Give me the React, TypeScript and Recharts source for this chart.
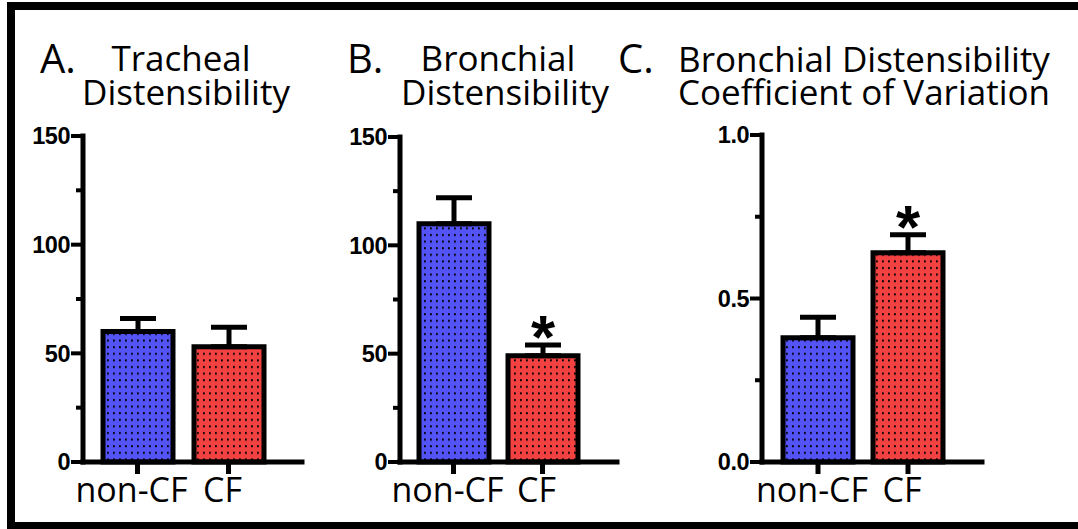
import { BarChart, Bar, XAxis, YAxis, Cell, ErrorBar, LabelList } from 'recharts';

const categories = ['non-CF', 'CF'];

const trachealMeans = [60, 53];
const trachealErr = [6, 9];
const trachealSig = ['', ''];

const bronchialMeans = [110, 49];
const bronchialErr = [12, 5];
const bronchialSig = ['', '*'];

const cvMeans = [0.38, 0.64];
const cvErr = [0.063, 0.055];
const cvSig = ['', '*'];

const distTicks = [0, 25, 50, 75, 100, 125, 150];
const cvTicks = [0, 0.25, 0.5, 0.75, 1];

const BLUE = '#5353f6';
const RED = '#f24141';
const fills = ['url(#dotsBlue)', 'url(#dotsRed)'];

const titleFont = '"Open Sans", sans-serif';
const tickFont = '"Liberation Sans", Arial, sans-serif';

function buildRows(means: number[], errs: number[], sig: string[]) {
  return categories.map((name, i) => ({
    name,
    value: means[i],
    err: [0, errs[i]],
    star: sig[i],
  }));
}

interface PanelProps {
  means: number[];
  errs: number[];
  sig: string[];
  ticks: number[];
  majorStep: number;
  decimals: number;
  plotLeft: number;
  plotTop: number;
  plotRight: number;
  padLeft: number;
  padRight: number;
}

const BOTTOM = 462;
const TOP_EDGE = 100;

function Panel(p: PanelProps) {
  const rows = buildRows(p.means, p.errs, p.sig);
  const width = p.plotRight - p.plotLeft + 80 + 12;
  const height = BOTTOM - TOP_EDGE + 60;

  const yTick = (t: any) => {
    const v = t.payload.value;
    const major = Math.abs(v / p.majorStep - Math.round(v / p.majorStep)) < 1e-6;
    const len = major ? 12 : 7;
    return (
      <g>
        <line x1={t.x - len} x2={t.x} y1={t.y} y2={t.y} stroke="#000" strokeWidth={4} />
        {major && (
          <text
            x={t.x - len - 1}
            y={t.y}
            dy="0.36em"
            textAnchor="end"
            fontFamily={tickFont}
            fontWeight="bold"
            fontSize={23.5}
            letterSpacing={-0.5}
            fill="#000"
          >
            {v.toFixed(p.decimals)}
          </text>
        )}
      </g>
    );
  };

  const xTick = (t: any) => (
    <text
      x={t.x - 6}
      y={t.y}
      dy="0.71em"
      textAnchor="middle"
      fontFamily={titleFont}
      fontSize={34}
      fill="#000"
    >
      {t.payload.value}
    </text>
  );

  // asterisk sits just above the error bar cap
  const star = (lp: any) => {
    const vb = lp.viewBox || lp;
    const row = rows[lp.index];
    if (!lp.value || !row) return null;
    const h = Math.abs(vb.height);
    const errPx = (h * row.err[1]) / row.value;
    const top = Math.min(vb.y, vb.y + vb.height);
    return (
      <text
        x={vb.x + vb.width / 2}
        y={top - errPx + 13}
        textAnchor="middle"
        fontFamily={tickFont}
        fontWeight="bold"
        fontSize={62}
        fill="#000"
      >
        {lp.value}
      </text>
    );
  };

  return (
    <div style={{ position: 'absolute', left: p.plotLeft - 80, top: TOP_EDGE }}>
      <BarChart
        width={width}
        height={height}
        data={rows}
        margin={{ top: p.plotTop - TOP_EDGE, right: 12, left: 0, bottom: 0 }}
        barSize={70}
      >
        <XAxis
          dataKey="name"
          height={60}
          padding={{ left: p.padLeft, right: p.padRight }}
          axisLine={{ stroke: '#000', strokeWidth: 5, strokeLinecap: 'square' }}
          tickLine={{ stroke: '#000', strokeWidth: 5 }}
          tickSize={12}
          tickMargin={4}
          tick={xTick}
          interval={0}
        />
        <YAxis
          width={80}
          domain={[p.ticks[0], p.ticks[p.ticks.length - 1]]}
          ticks={p.ticks}
          interval={0}
          axisLine={{ stroke: '#000', strokeWidth: 5, strokeLinecap: 'square' }}
          tickLine={false}
          tickSize={0}
          tickMargin={0}
          tick={yTick}
        />
        <Bar dataKey="value" stroke="#000" strokeWidth={5} isAnimationActive={false}>
          {rows.map((r, i) => (
            <Cell key={r.name} fill={fills[i]} />
          ))}
          <ErrorBar dataKey="err" direction="y" width={18} stroke="#000" strokeWidth={5} />
          <LabelList dataKey="star" content={star} />
        </Bar>
      </BarChart>
    </div>
  );
}

export default function App() {
  return (
    <div
      style={{
        position: 'fixed',
        left: 0,
        top: 0,
        width: 1078,
        height: 529,
        background: '#fff',
        overflow: 'hidden',
      }}
    >
      <svg width={0} height={0} style={{ position: 'absolute' }}>
        <defs>
          <pattern id="dotsBlue" width={6} height={6.6} patternUnits="userSpaceOnUse">
            <rect width={6} height={6.6} fill={BLUE} />
            <rect x={2} y={2} width={1.8} height={2} fill="#000" />
          </pattern>
          <pattern id="dotsRed" width={6} height={6.6} patternUnits="userSpaceOnUse">
            <rect width={6} height={6.6} fill={RED} />
            <rect x={2} y={2} width={1.8} height={2} fill="#000" />
          </pattern>
        </defs>
      </svg>

      <div
        style={{
          position: 'absolute',
          left: 7,
          top: 2,
          width: 1120,
          height: 512,
          border: '8px solid #000',
        }}
      />

      <Panel
        means={trachealMeans}
        errs={trachealErr}
        sig={trachealSig}
        ticks={distTicks}
        majorStep={50}
        decimals={0}
        plotLeft={83}
        plotTop={136}
        plotRight={302}
        padLeft={9}
        padRight={28}
      />
      <Panel
        means={bronchialMeans}
        errs={bronchialErr}
        sig={bronchialSig}
        ticks={distTicks}
        majorStep={50}
        decimals={0}
        plotLeft={400}
        plotTop={137}
        plotRight={617}
        padLeft={9}
        padRight={30}
      />
      <Panel
        means={cvMeans}
        errs={cvErr}
        sig={cvSig}
        ticks={cvTicks}
        majorStep={0.5}
        decimals={1}
        plotLeft={762}
        plotTop={135}
        plotRight={982}
        padLeft={11}
        padRight={29}
      />

      <svg
        width={1078}
        height={130}
        style={{ position: 'absolute', left: 0, top: 0 }}
        fontFamily={titleFont}
        fill="#000"
      >
        <text x={40} y={73} fontSize={40}>A.</text>
        <text x={181} y={71} fontSize={35} textAnchor="middle">Tracheal</text>
        <text x={186} y={105} fontSize={35} textAnchor="middle">Distensibility</text>

        <text x={347} y={73} fontSize={40}>B.</text>
        <text x={498} y={71} fontSize={35} textAnchor="middle">Bronchial</text>
        <text x={505} y={105} fontSize={35} textAnchor="middle">Distensibility</text>

        <text x={618} y={73} fontSize={40}>C.</text>
        <text x={864} y={72} fontSize={35} textAnchor="middle">Bronchial Distensibility</text>
        <text x={864} y={105} fontSize={35} textAnchor="middle">Coefficient of Variation</text>
      </svg>
    </div>
  );
}
